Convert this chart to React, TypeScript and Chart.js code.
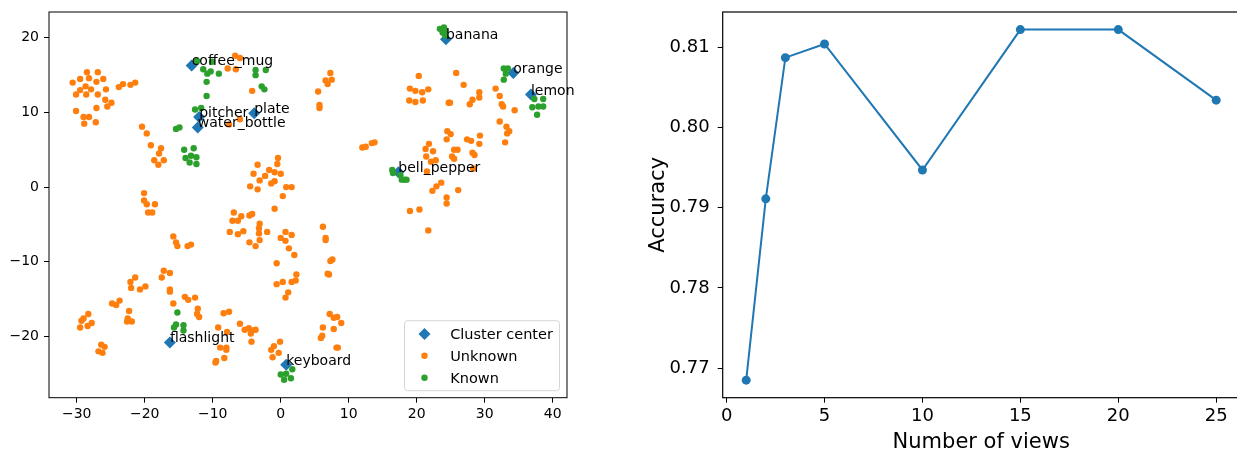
import React, { useEffect, useRef } from 'react';
import { Chart, registerables } from 'chart.js';

Chart.register(...registerables);

const FONT = '"DejaVu Sans", "Liberation Sans", sans-serif';
const BLUE = '#1f77b4';
const ORANGE = '#ff7f0e';
const GREEN = '#2ca02c';

// ---------- left panel: embedding scatter ----------
const CENTER_NAMES = ['coffee_mug', 'pitcher', 'water_bottle', 'plate', 'banana', 'orange', 'lemon', 'bell_pepper', 'flashlight', 'keyboard'];
const CENTER_X = [-13.1, -12.0, -12.2, -3.9, 24.3, 34.2, 36.8, 17.3, -16.3, 0.8];
const CENTER_Y = [16.3, 9.4, 8.0, 9.9, 19.8, 15.3, 12.4, 2.0, -20.8, -23.8];

const UNKNOWN: [number, number][] = [
  [-28.5, 15.4], [-26.9, 15.4], [-29.5, 14.5], [-28.2, 14.6], [-27.1, 14.1], [-26.1, 14.5], [-30.6, 14.0], [-28.7, 13.5],
  [-27.9, 13.1], [-29.5, 13.0], [-30.1, 12.4], [-28.6, 12.4], [-26.9, 12.4], [-25.7, 13.1], [-23.8, 13.4], [-23.2, 13.8],
  [-22.1, 13.7], [-21.4, 14.0], [-25.8, 11.7], [-24.9, 11.3], [-25.5, 10.8], [-27.1, 10.6], [-30.1, 10.2], [-29.0, 9.4],
  [-28.2, 9.4], [-28.9, 8.5], [-27.2, 8.7], [-20.4, 8.1], [-19.7, 7.2], [-19.1, 5.6], [-17.6, 5.2], [-17.9, 4.5],
  [-18.6, 3.6], [-17.2, 3.6], [-18.0, 3.0], [-20.1, -0.8], [-20.1, -1.8], [-19.7, -2.3], [-18.5, -2.3], [-19.5, -3.4],
  [-18.9, -3.4], [-7.8, 15.9], [-6.7, 17.6], [-6.0, 17.3], [-6.6, 15.8], [-4.2, 12.9], [-7.6, 8.4], [-6.0, 9.1],
  [-0.4, 3.9], [-0.5, 3.1], [-3.4, 3.0], [-1.7, 2.3], [-0.9, 2.0], [0.0, 1.8], [-4.0, 1.8], [-2.3, 1.5],
  [-3.1, 0.9], [-0.9, 0.8], [-1.4, 0.5], [-4.5, 0.1], [-3.4, -0.3], [0.8, 0.0], [1.6, 0.0], [0.3, -1.2],
  [-0.9, -2.9], [-6.9, -3.4], [-5.8, -3.9], [-7.1, -4.5], [-6.3, -4.5], [-4.6, -3.8], [-4.2, -3.6], [-3.1, -4.9],
  [-3.2, -5.5], [-3.2, -6.2], [-7.5, -6.0], [-6.3, -6.3], [-5.5, -5.9], [-2.0, -6.0], [-3.1, -7.1], [-4.6, -7.4],
  [-3.7, -7.9], [0.7, -6.0], [1.6, -6.4], [0.0, -6.8], [0.7, -7.2], [1.2, -8.2], [2.0, -9.1], [-0.6, -10.2],
  [2.3, -11.7], [1.6, -12.7], [2.2, -12.5], [0.3, -12.7], [-0.6, -13.0], [1.1, -14.1], [0.7, -14.8], [6.2, -5.3],
  [6.6, -6.8], [6.6, -7.1], [7.3, -9.9], [7.6, -9.7], [6.9, -11.6], [7.1, -11.7], [7.2, -17.0], [7.8, -17.5],
  [8.3, -17.4], [8.9, -18.2], [6.2, -18.8], [7.8, -19.0], [6.1, -19.9], [5.9, -20.2], [8.2, -21.5], [8.4, -21.5],
  [-6.0, -18.3], [-5.3, -19.1], [-4.7, -18.9], [-4.2, -19.2], [-3.7, -19.1], [-4.4, -19.6], [-4.3, -20.7], [-0.1, -20.7],
  [-1.0, -21.3], [-1.4, -21.8], [-0.3, -22.2], [-1.2, -22.8], [-15.8, -6.6], [-15.4, -7.4], [-15.2, -7.9], [-13.7, -7.9],
  [-13.2, -7.7], [-17.2, -11.2], [-16.3, -11.5], [-17.5, -12.1], [-16.3, -13.7], [-16.3, -14.0], [-22.1, -12.7], [-21.4, -12.1],
  [-22.0, -13.5], [-20.7, -13.7], [-19.9, -13.3], [-24.8, -15.6], [-24.2, -15.8], [-23.7, -15.2], [-22.3, -16.6], [-22.5, -17.6],
  [-22.6, -18.0], [-21.9, -18.0], [-28.3, -17.0], [-29.0, -17.6], [-29.3, -17.9], [-27.8, -18.2], [-28.4, -18.6], [-29.5, -18.8],
  [-26.4, -21.1], [-25.9, -21.4], [-26.8, -22.0], [-26.2, -22.2], [-15.8, -15.6], [-14.1, -14.7], [-13.6, -15.1], [-12.6, -14.8],
  [-12.2, -16.3], [-12.3, -17.0], [-12.0, -17.4], [-9.2, -18.8], [-8.4, -16.9], [-7.6, -16.7], [-7.9, -19.4], [-8.9, -21.5],
  [-8.0, -21.5], [-8.0, -21.8], [-9.5, -23.3], [-9.6, -23.5], [-8.3, -22.9], [7.3, 15.3], [6.6, 14.3], [6.9, 13.8],
  [7.5, 14.4], [5.5, 12.8], [5.7, 11.0], [5.7, 10.6], [20.3, 14.9], [25.8, 15.3], [26.9, 13.7], [19.0, 13.2],
  [19.8, 12.9], [20.8, 12.7], [21.7, 13.1], [18.9, 11.6], [19.8, 11.4], [20.9, 11.6], [24.7, 11.3], [24.9, 11.3],
  [27.8, 11.1], [28.2, 11.7], [29.2, 12.7], [29.2, 12.0], [31.6, 13.2], [32.2, 12.2], [32.5, 11.1], [32.7, 10.8],
  [34.4, 10.3], [32.2, 8.8], [33.2, 8.1], [33.6, 7.5], [33.3, 7.2], [33.0, 6.0], [12.0, 5.3], [12.5, 5.4],
  [13.4, 5.9], [13.8, 6.0], [24.5, 7.5], [25.0, 7.1], [24.4, 6.4], [27.4, 6.4], [28.0, 6.2], [29.3, 6.9],
  [29.2, 5.8], [21.3, 5.1], [21.8, 5.8], [22.4, 4.8], [25.5, 5.0], [26.0, 5.0], [21.4, 4.1], [22.8, 3.6],
  [22.1, 3.4], [25.2, 4.1], [25.5, 3.8], [28.2, 4.6], [28.5, 4.3], [21.5, 2.1], [28.3, 2.5], [23.6, 0.6],
  [22.9, 0.1], [22.3, -0.5], [26.1, -0.4], [24.4, -1.4], [24.4, -2.2], [19.0, -3.2], [20.4, -3.0], [21.7, -5.8],
];

const KNOWN: [number, number][] = [
  [-12.3, 16.9], [-10.1, 16.8], [-11.4, 15.8], [-10.8, 15.2], [-10.3, 15.5], [-9.1, 15.2], [-10.9, 14.1], [-10.9, 12.2],
  [-3.7, 15.7], [-3.7, 15.0], [-2.2, 15.7], [-2.8, 13.5], [-2.4, 13.1],
  [-12.6, 10.4], [-11.7, 10.6], [-15.4, 7.8], [-14.9, 8.0],
  [-14.2, 5.0], [-12.8, 5.2], [-14.0, 3.9], [-13.2, 4.2], [-12.4, 4.0], [-13.4, 3.3], [-12.4, 3.1],
  [23.4, 21.2], [24.0, 21.4], [24.2, 21.0], [23.8, 20.7], [24.2, 20.3],
  [32.8, 15.9], [33.4, 15.9], [33.1, 15.2], [32.8, 14.4],
  [37.3, 11.8], [38.6, 11.8], [37.0, 10.7], [37.9, 10.8], [38.6, 10.8], [37.7, 9.7],
  [16.4, 2.3], [16.5, 1.9], [17.6, 1.6], [17.8, 1.0], [18.2, 1.0], [18.5, 1.0],
  [-15.2, -16.8], [-15.4, -18.4], [-15.7, -18.8], [-14.3, -18.5], [-14.3, -19.2],
  [0.0, -25.1], [0.8, -25.0], [1.7, -24.4], [1.5, -25.6], [0.5, -25.8],
];

const SCATTER_X_TICKS = [-30, -20, -10, 0, 10, 20, 30, 40];
const SCATTER_Y_TICKS = [-20, -10, 0, 10, 20];
const LEGEND_LABELS = ['Cluster center', 'Unknown', 'Known'];

// ---------- right panel: accuracy vs views ----------
const VIEWS = [1, 2, 3, 5, 10, 15, 20, 25];
const ACCURACY = [0.7685, 0.7911, 0.8087, 0.8104, 0.7947, 0.8122, 0.8122, 0.8034];
const VIEW_TICKS = [0, 5, 10, 15, 20, 25];
const ACC_TICKS = [0.77, 0.78, 0.79, 0.8, 0.81];
const X_TITLE = 'Number of views';
const Y_TITLE = 'Accuracy';

const fmtMinus = (v: number) => (v < 0 ? '\u2212' + Math.abs(v) : String(v));

const frame = (lw: number) => ({
  id: 'frame',
  afterDraw(chart: any) {
    const { ctx, chartArea: a } = chart;
    ctx.save();
    ctx.strokeStyle = '#000';
    ctx.lineWidth = lw;
    ctx.strokeRect(a.left, a.top, a.right - a.left, a.bottom - a.top);
    ctx.restore();
  },
});

function drawDiamond(ctx: CanvasRenderingContext2D, x: number, y: number, r: number) {
  ctx.beginPath();
  ctx.moveTo(x - r, y);
  ctx.lineTo(x, y - r);
  ctx.lineTo(x + r, y);
  ctx.lineTo(x, y + r);
  ctx.closePath();
  ctx.fill();
}

const scatterDecor = {
  id: 'scatterDecor',
  afterDatasetsDraw(chart: any) {
    const { ctx, scales } = chart;
    ctx.save();
    ctx.fillStyle = '#000';
    ctx.font = '14px ' + FONT;
    ctx.textAlign = 'left';
    ctx.textBaseline = 'alphabetic';
    CENTER_NAMES.forEach((n, i) => {
      ctx.fillText(n, scales.x.getPixelForValue(CENTER_X[i]), scales.y.getPixelForValue(CENTER_Y[i]));
    });
    ctx.restore();
  },
  afterDraw(chart: any) {
    const { ctx, chartArea: a } = chart;
    const w = 155, h = 70;
    const x0 = a.right - 7.5 - w;
    const y0 = a.bottom - 7 - h;
    ctx.save();
    ctx.beginPath();
    if ((ctx as any).roundRect) (ctx as any).roundRect(x0, y0, w, h, 3);
    else ctx.rect(x0, y0, w, h);
    ctx.fillStyle = 'rgba(255,255,255,0.8)';
    ctx.fill();
    ctx.strokeStyle = '#d5d5d5';
    ctx.lineWidth = 1;
    ctx.stroke();
    const mx = x0 + 20;
    const rows = [y0 + 13.3, y0 + 35, y0 + 57];
    ctx.fillStyle = BLUE;
    drawDiamond(ctx, mx, rows[0], 6);
    ctx.fillStyle = ORANGE;
    ctx.beginPath(); ctx.arc(mx, rows[1], 3.2, 0, Math.PI * 2); ctx.fill();
    ctx.fillStyle = GREEN;
    ctx.beginPath(); ctx.arc(mx, rows[2], 3.2, 0, Math.PI * 2); ctx.fill();
    ctx.fillStyle = '#000';
    ctx.font = '14.5px ' + FONT;
    ctx.textAlign = 'left';
    ctx.textBaseline = 'alphabetic';
    LEGEND_LABELS.forEach((t, i) => ctx.fillText(t, x0 + 45.7, rows[i] + 5.1));
    ctx.restore();
  },
};

const lineDecor = {
  id: 'lineDecor',
  afterDraw(chart: any) {
    const { ctx, chartArea: a } = chart;
    ctx.save();
    ctx.fillStyle = '#000';
    ctx.font = '21px ' + FONT;
    ctx.textAlign = 'center';
    ctx.textBaseline = 'alphabetic';
    ctx.fillText(X_TITLE, (a.left + a.right) / 2, 448);
    ctx.translate(43.5, (a.top + a.bottom) / 2);
    ctx.rotate(-Math.PI / 2);
    ctx.fillText(Y_TITLE, 0, 0);
    ctx.restore();
  },
};

function tickGrid() {
  return { display: true, drawOnChartArea: false, drawTicks: true, tickLength: 5, color: '#000', lineWidth: 1 };
}

const fixX = (h: number) => (s: any) => { s.height = h; s.paddingLeft = 0; s.paddingRight = 0; };
const fixY = (w: number) => (s: any) => { s.width = w; s.paddingTop = 0; s.paddingBottom = 0; };

function ScatterPanel() {
  const ref = useRef<HTMLCanvasElement>(null);
  useEffect(() => {
    const chart = new Chart(ref.current!, {
      type: 'scatter',
      data: {
        datasets: [
          {
            label: LEGEND_LABELS[0],
            data: CENTER_X.map((x, i) => ({ x, y: CENTER_Y[i] })),
            pointStyle: 'rectRot',
            pointRadius: 6,
            pointBackgroundColor: BLUE,
            pointBorderWidth: 0,
            order: 3,
          },
          {
            label: LEGEND_LABELS[1],
            data: UNKNOWN.map(([x, y]) => ({ x, y })),
            pointRadius: 3.2,
            pointBackgroundColor: ORANGE,
            pointBorderWidth: 0,
            order: 2,
          },
          {
            label: LEGEND_LABELS[2],
            data: KNOWN.map(([x, y]) => ({ x, y })),
            pointRadius: 3.2,
            pointBackgroundColor: GREEN,
            pointBorderWidth: 0,
            order: 1,
          },
        ],
      },
      options: {
        animation: false,
        responsive: false,
        layout: { autoPadding: false, padding: { top: 12, right: 33, left: 0, bottom: 0 } },
        plugins: { legend: { display: false }, tooltip: { enabled: false } },
        scales: {
          x: {
            type: 'linear',
            min: -34.08,
            max: 42.1,
            grid: tickGrid() as any,
            border: { display: false },
            afterBuildTicks: (s: any) => { s.ticks = SCATTER_X_TICKS.map((v) => ({ value: v })); },
            afterFit: fixX(52.3),
            ticks: { color: '#000', font: { family: FONT, size: 14 }, padding: 3, maxRotation: 0, callback: (v: any) => fmtMinus(Number(v)) },
          },
          y: {
            type: 'linear',
            min: -28.21,
            max: 23.46,
            grid: tickGrid() as any,
            border: { display: false },
            afterBuildTicks: (s: any) => { s.ticks = SCATTER_Y_TICKS.map((v) => ({ value: v })); },
            afterFit: fixY(49),
            ticks: { color: '#000', font: { family: FONT, size: 14 }, padding: 5, callback: (v: any) => fmtMinus(Number(v)) },
          },
        },
      },
      plugins: [frame(1), scatterDecor],
    } as any);
    return () => chart.destroy();
  }, []);
  return <canvas ref={ref} width={600} height={450} style={{ position: 'absolute', left: 0, top: 0, width: 600, height: 450 }} />;
}

function LinePanel() {
  const ref = useRef<HTMLCanvasElement>(null);
  useEffect(() => {
    const chart = new Chart(ref.current!, {
      type: 'line',
      data: {
        datasets: [
          {
            label: Y_TITLE,
            data: VIEWS.map((x, i) => ({ x, y: ACCURACY[i] })),
            borderColor: BLUE,
            borderWidth: 2,
            pointRadius: 4.5,
            pointBackgroundColor: BLUE,
            pointBorderColor: BLUE,
            pointBorderWidth: 0,
            tension: 0,
            fill: false,
          },
        ],
      },
      options: {
        animation: false,
        responsive: false,
        layout: { autoPadding: false, padding: { top: 12, right: 20.3, left: 0, bottom: 0 } },
        plugins: { legend: { display: false }, tooltip: { enabled: false } },
        scales: {
          x: {
            type: 'linear',
            min: -0.2,
            max: 26.2,
            grid: tickGrid() as any,
            border: { display: false },
            afterBuildTicks: (s: any) => { s.ticks = VIEW_TICKS.map((v) => ({ value: v })); },
            afterFit: fixX(52.3),
            ticks: { color: '#000', font: { family: FONT, size: 18 }, padding: 3, maxRotation: 0 },
          },
          y: {
            type: 'linear',
            min: 0.76631,
            max: 0.81439,
            grid: tickGrid() as any,
            border: { display: false },
            afterBuildTicks: (s: any) => { s.ticks = ACC_TICKS.map((v) => ({ value: v })); },
            afterFit: fixY(102.7),
            ticks: { color: '#000', font: { family: FONT, size: 18 }, padding: 8, callback: (v: any) => Number(v).toFixed(2) },
          },
        },
      },
      plugins: [frame(1.2), lineDecor],
    } as any);
    return () => chart.destroy();
  }, []);
  return <canvas ref={ref} width={640} height={450} style={{ position: 'absolute', left: 620, top: 0, width: 640, height: 450 }} />;
}

export default function App() {
  return (
    <div style={{ position: 'fixed', left: 0, top: 0, width: 1237, height: 450, overflow: 'hidden', background: '#fff' }}>
      <ScatterPanel />
      <LinePanel />
    </div>
  );
}
